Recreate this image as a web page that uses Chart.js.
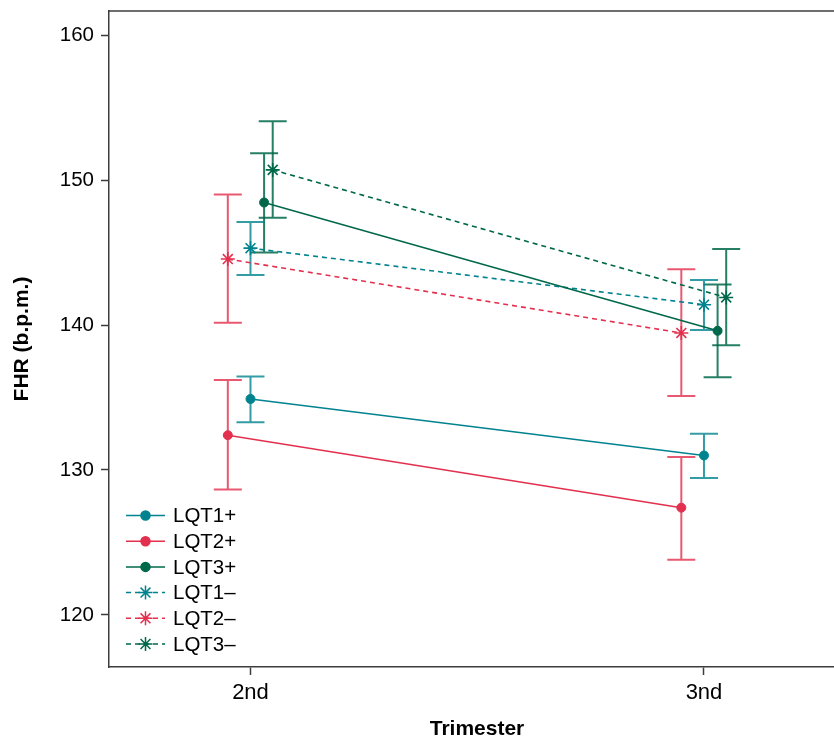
<!DOCTYPE html>
<html>
<head>
<meta charset="utf-8">
<style>
  html, body { margin: 0; padding: 0; background: #ffffff; overflow: hidden; }
  #wrap { width: 834px; height: 739px; position: relative; overflow: hidden; }
</style>
<script src="https://cdn.jsdelivr.net/npm/chart.js@4/dist/chart.umd.min.js"></script>
</head>
<body>
<div id="wrap"><canvas id="c" width="834" height="739"></canvas></div>
<script>
// ---- data ----
const categories = ['2nd', '3nd'];
const yTicks = [120, 130, 140, 150, 160];
const seriesNames = ['LQT1+', 'LQT2+', 'LQT3+', 'LQT1–', 'LQT2–', 'LQT3–'];
const xTitle = 'Trimester';
const yTitle = 'FHR (b.p.m.)';

const lqt1PosMean = [134.9, 131.0];
const lqt1PosLow  = [133.3, 129.45];
const lqt1PosHigh = [136.45, 132.5];

const lqt2PosMean = [132.4, 127.4];
const lqt2PosLow  = [128.65, 123.8];
const lqt2PosHigh = [136.2, 130.9];

const lqt3PosMean = [148.45, 139.6];
const lqt3PosLow  = [145.0, 136.4];
const lqt3PosHigh = [151.85, 142.8];

const lqt1NegMean = [145.3, 141.4];
const lqt1NegLow  = [143.45, 139.65];
const lqt1NegHigh = [147.1, 143.1];

const lqt2NegMean = [144.55, 139.45];
const lqt2NegLow  = [140.15, 135.1];
const lqt2NegHigh = [149.0, 143.85];

const lqt3NegMean = [150.7, 141.9];
const lqt3NegLow  = [147.4, 138.6];
const lqt3NegHigh = [154.05, 145.25];

// ---- styling ----
const TEAL = '#00838F', RED = '#E2304E', GREEN = '#00684A';
const TEAL_EB = 'rgba(0,131,143,0.8)', RED_EB = 'rgba(226,48,78,0.8)', GREEN_EB = 'rgba(0,104,74,0.85)';
const FONT = "'Liberation Sans', Arial, Helvetica, sans-serif";

const seriesDefs = [
  { mean: lqt1PosMean, low: lqt1PosLow, high: lqt1PosHigh, color: TEAL,  eb: TEAL_EB,  dodge: 0,      marker: 'circle', dash: [] },
  { mean: lqt2PosMean, low: lqt2PosLow, high: lqt2PosHigh, color: RED,   eb: RED_EB,   dodge: -0.05,  marker: 'circle', dash: [] },
  { mean: lqt3PosMean, low: lqt3PosLow, high: lqt3PosHigh, color: GREEN, eb: GREEN_EB, dodge: 0.03,   marker: 'circle', dash: [] },
  { mean: lqt1NegMean, low: lqt1NegLow, high: lqt1NegHigh, color: TEAL,  eb: TEAL_EB,  dodge: 0,      marker: 'star',   dash: [5, 4] },
  { mean: lqt2NegMean, low: lqt2NegLow, high: lqt2NegHigh, color: RED,   eb: RED_EB,   dodge: -0.05,  marker: 'star',   dash: [5, 4] },
  { mean: lqt3NegMean, low: lqt3NegLow, high: lqt3NegHigh, color: GREEN, eb: GREEN_EB, dodge: 0.049,  marker: 'star',   dash: [5, 4] }
];

const datasets = seriesDefs.map((s, i) => ({
  label: seriesNames[i],
  data: categories.map((c, j) => ({ x: j + s.dodge, y: s.mean[j] })),
  showLine: true,
  borderColor: s.color,
  backgroundColor: s.color,
  borderWidth: 1.6,
  borderDash: s.dash,
  pointStyle: s.marker,
  pointRadius: s.marker === 'star' ? 7 : 4.5,
  pointBorderWidth: s.marker === 'star' ? 1.6 : 1,
  pointBackgroundColor: s.color,
  pointBorderColor: s.color,
  pointHoverRadius: s.marker === 'star' ? 7 : 4.5,
  tension: 0,
  order: i
}));

const errorBarPlugin = {
  id: 'errorBars',
  beforeDatasetsDraw(chart) {
    const { ctx, scales: { x, y } } = chart;
    ctx.save();
    ctx.lineWidth = 2;
    ctx.setLineDash([]);
    seriesDefs.forEach((s) => {
      ctx.strokeStyle = s.eb;
      categories.forEach((c, j) => {
        const px = x.getPixelForValue(j + s.dodge);
        const yl = y.getPixelForValue(s.low[j]);
        const yh = y.getPixelForValue(s.high[j]);
        ctx.beginPath();
        ctx.moveTo(px, yl); ctx.lineTo(px, yh);
        ctx.moveTo(px - 14, yl); ctx.lineTo(px + 14, yl);
        ctx.moveTo(px - 14, yh); ctx.lineTo(px + 14, yh);
        ctx.stroke();
      });
    });
    ctx.restore();
  }
};

const framePlugin = {
  id: 'frame',
  afterDraw(chart) {
    const { ctx, chartArea: a } = chart;
    ctx.save();
    ctx.strokeStyle = '#3c3c3c';
    ctx.lineWidth = 1.5;
    ctx.beginPath();
    ctx.moveTo(a.left, a.top); ctx.lineTo(a.right + 2, a.top);
    ctx.stroke();
    // x-axis title, centred on the full plot frame of the original figure
    ctx.fillStyle = '#000';
    ctx.font = 'bold 21px ' + FONT;
    ctx.textAlign = 'center';
    ctx.textBaseline = 'middle';
    ctx.fillText(xTitle, 477, 729.5);
    ctx.restore();
  }
};

const legendPlugin = {
  id: 'customLegend',
  afterDatasetsDraw(chart) {
    const { ctx } = chart;
    ctx.save();
    seriesDefs.forEach((s, i) => {
      const yy = 515.5 + i * 25.7;
      ctx.strokeStyle = s.color;
      ctx.fillStyle = s.color;
      ctx.lineWidth = 1.5;
      ctx.setLineDash(s.dash);
      ctx.beginPath();
      ctx.moveTo(126, yy); ctx.lineTo(165, yy);
      ctx.stroke();
      ctx.setLineDash([]);
      Chart.helpers.drawPoint(ctx, {
        pointStyle: s.marker,
        rotation: 0,
        radius: s.marker === 'star' ? 7 : 4.5,
        borderWidth: s.marker === 'star' ? 1.6 : 1
      }, 145.5, yy);
      ctx.fillStyle = '#000';
      ctx.font = '20.5px ' + FONT;
      ctx.textBaseline = 'middle';
      ctx.textAlign = 'left';
      ctx.fillText(seriesNames[i], 173, yy + 1);
    });
    ctx.restore();
  }
};

function zeroPad(scale) {
  scale.paddingTop = 0; scale.paddingBottom = 0;
  scale.paddingLeft = 0; scale.paddingRight = 0;
}

new Chart(document.getElementById('c'), {
  type: 'scatter',
  data: { datasets },
  plugins: [errorBarPlugin, framePlugin, legendPlugin],
  options: {
    responsive: false,
    animation: false,
    layout: { autoPadding: false, padding: { top: 11, right: 0, bottom: 0, left: 0 } },
    plugins: { legend: { display: false }, tooltip: { enabled: false } },
    scales: {
      x: {
        type: 'linear',
        min: -0.312,
        max: 1.2867,
        afterFit(scale) { scale.height = 72; zeroPad(scale); },
        afterBuildTicks(scale) { scale.ticks = categories.map((c, j) => ({ value: j })); },
        ticks: {
          callback: (v) => categories[v] !== undefined ? categories[v] : '',
          color: '#000',
          font: { family: FONT, size: 22 },
          padding: 5,
          maxRotation: 0,
          autoSkip: false
        },
        grid: { drawOnChartArea: false, tickLength: 8, color: '#3c3c3c', tickWidth: 1.5 },
        border: { display: true, color: '#3c3c3c', width: 1.5 },
        title: { display: false }
      },
      y: {
        type: 'linear',
        min: 116.41,
        max: 161.66,
        afterFit(scale) { scale.width = 109; zeroPad(scale); },
        afterBuildTicks(scale) { scale.ticks = yTicks.map(v => ({ value: v })); },
        ticks: {
          color: '#000',
          font: { family: FONT, size: 20.5 },
          padding: 7
        },
        grid: { drawOnChartArea: false, tickLength: 8, color: '#3c3c3c', tickWidth: 1.5 },
        border: { display: true, color: '#3c3c3c', width: 1.5 },
        title: {
          display: true,
          text: yTitle,
          color: '#000',
          font: { family: FONT, size: 21, weight: 'bold' },
          padding: { top: 10, bottom: 0 }
        }
      }
    }
  }
});
</script>
</body>
</html>
